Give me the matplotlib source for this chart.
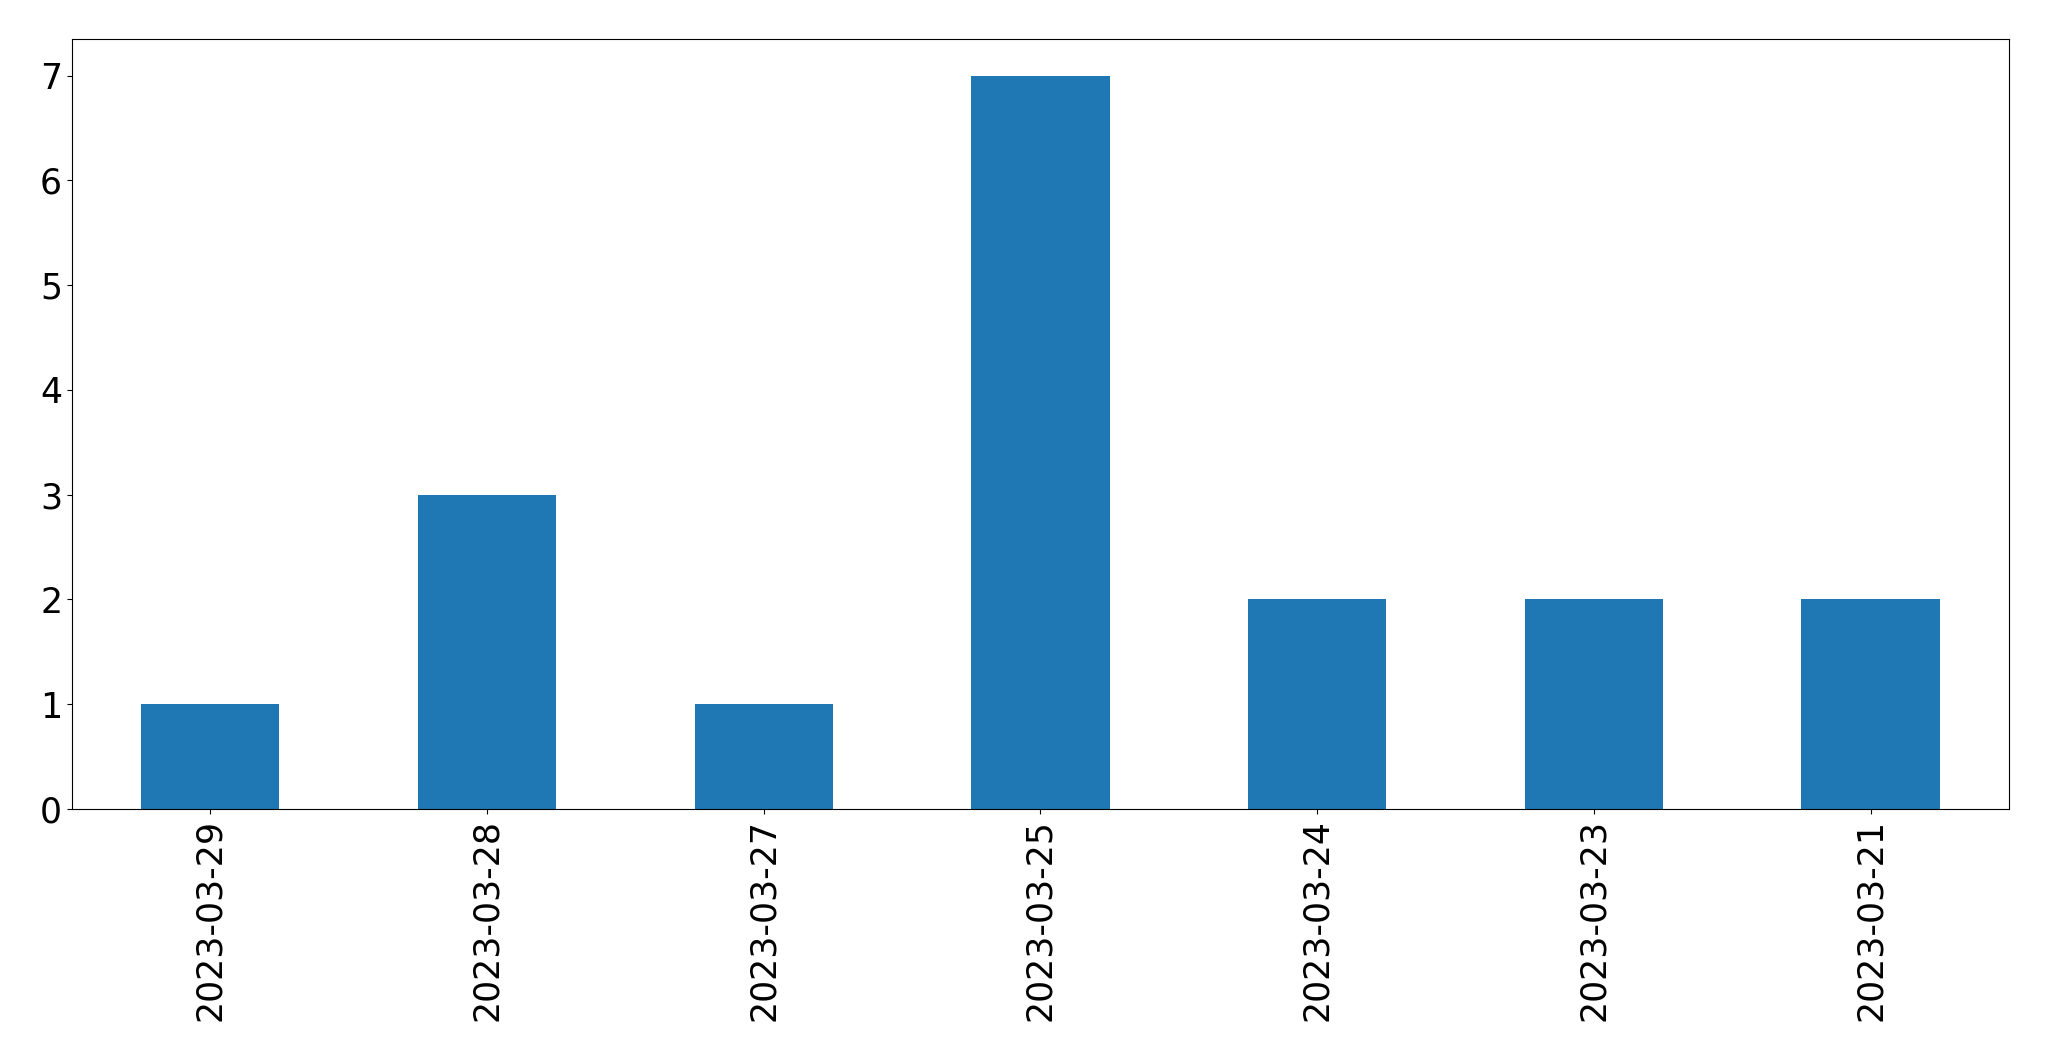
import matplotlib
matplotlib.use("Agg")
import matplotlib.pyplot as plt
import pandas as pd

dates = ["2023-03-29", "2023-03-28", "2023-03-27", "2023-03-25",
         "2023-03-24", "2023-03-23", "2023-03-21"]
counts = [1, 3, 1, 7, 2, 2, 2]

series = pd.Series(counts, index=dates)

fig, ax = plt.subplots(figsize=(20.49, 10.61), dpi=100)
fig.subplots_adjust(left=0.0351, right=0.9805, top=0.9632, bottom=0.2375)

series.plot(kind="bar", ax=ax, color="#1f77b4")
ax.tick_params(axis="both", labelsize=25)
ax.set_xlabel("")

fig.savefig("out.png", dpi=100)
plt.close(fig)
